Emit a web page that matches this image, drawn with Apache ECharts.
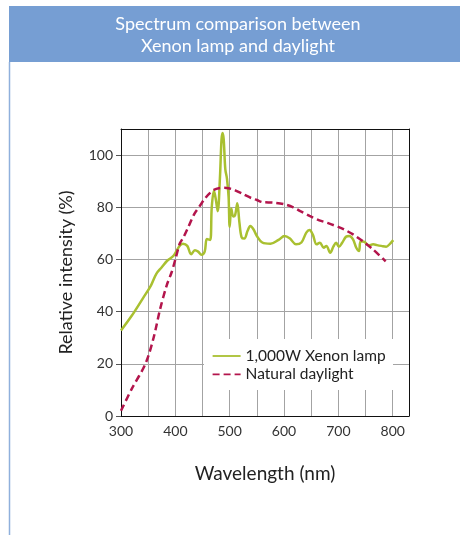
<!DOCTYPE html>
<html>
<head>
<meta charset="utf-8">
<script src="https://cdn.jsdelivr.net/npm/echarts@6/dist/echarts.min.js"></script>
<style>
html,body{margin:0;padding:0;background:#fff;}
#chart{width:460px;height:537px;}
</style>
</head>
<body>
<div id="chart"></div>
<script>
// ---- data ----
var titleLines = ['Spectrum comparison between', 'Xenon lamp and daylight'];
var xAxisName = 'Wavelength (nm)';
var yAxisName = 'Relative intensity (%)';
var xTickLabels = [300, 400, 500, 600, 700, 800];
var yTickLabels = [0, 20, 40, 60, 80, 100];
var seriesNames = ['1,000W Xenon lamp', 'Natural daylight'];

var xenonWavelength = [300, 320, 340, 355, 365, 375, 385, 397, 407, 414, 422, 429, 436, 442, 448, 454, 458, 464,
  467, 471, 474.5, 478, 482, 485, 487, 489, 492, 495, 498, 500, 503, 506.5, 510, 514, 518, 522, 527, 533, 538, 544,
  550, 560, 575, 590, 601, 611, 622, 632, 641, 647, 653, 660, 666, 673, 678, 685, 691, 696, 701, 707, 714, 720, 727,
  733, 738, 741, 748, 756, 764, 771, 779, 788, 795, 801];
var xenonIntensity = [32.8, 38.5, 45, 50, 54.5, 57, 59.5, 61.5, 65, 66, 65.2, 62, 63.5, 63, 61.8, 63, 67.8, 67.5,
  80, 86.3, 83, 78.5, 91, 106, 108.5, 106, 94.5, 91, 84, 72.5, 79.5, 76.5, 77, 81.5, 74, 68.5, 68, 71, 72.8, 71.5,
  69, 66.5, 66, 67.5, 69, 68, 65.8, 66.5, 70.3, 71.3, 69.5, 65.8, 66.4, 64.5, 65.2, 62.6, 65, 66.4, 64.9, 66.4, 68.7, 69, 67.7,
  64.5, 63.2, 67, 66.7, 65.4, 65.8, 65.5, 65.2, 64.9, 66, 67.4];

var daylightWavelength = [300, 320, 345, 360, 372, 384, 393, 400, 408, 415, 424, 435, 445, 455, 464, 472, 480, 490,
  500, 510, 525, 540, 550, 560, 580, 600, 617, 630, 647, 665, 680, 703, 715, 727, 745, 764, 787];
var daylightIntensity = [2, 10.5, 20, 30, 41, 50, 55, 60, 66, 68.5, 72.5, 77.5, 80.5, 83.5, 85.5, 86.8, 87.3, 87.5,
  87.2, 86.5, 85, 83.5, 82.8, 82, 81.8, 81.2, 80, 78.5, 76.7, 75, 74, 72.2, 71, 69.6, 67, 63.8, 59.3];

function pairs(xs, ys) { return xs.map(function (x, i) { return [x, ys[i]]; }); }

var FONT = 'Lato';
var chart = echarts.init(document.getElementById('chart'), null, {renderer: 'canvas'});
var option = {
  backgroundColor: '#ffffff',
  animation: false,
  textStyle: {fontFamily: FONT},
  title: {
    text: titleLines.join('\n'),
    left: 238,
    top: 12.6,
    padding: 0,
    textAlign: 'center',
    textStyle: {color: '#ffffff', fontSize: 18, fontWeight: 'normal', lineHeight: 22.7, fontFamily: FONT}
  },
  graphic: [
    {type: 'rect', z: -10, shape: {x: 9, y: 6, width: 451, height: 56}, style: {fill: '#769ed3'}},
    {type: 'line', z: -10, shape: {x1: 9.5, y1: 62, x2: 9.5, y2: 535}, style: {stroke: '#8fb0dc', lineWidth: 1.5}}
  ],
  grid: {left: 121, right: 51, top: 129, bottom: 121, containLabel: false},
  legend: {
    orient: 'vertical',
    left: 206.7,
    top: 342.5,
    itemWidth: 28,
    itemHeight: 14,
    itemGap: 1.3,
    data: seriesNames,
    itemStyle: {opacity: 0},
    lineStyle: {width: 1.8},
    textStyle: {fontSize: 15.5, color: '#222', lineHeight: 17, fontFamily: FONT},
    z: 10
  },
  xAxis: [{
    type: 'value', min: 300, max: 830, interval: 50,
    name: xAxisName, nameLocation: 'middle', nameGap: 48,
    nameTextStyle: {fontSize: 19, color: '#222', fontFamily: FONT},
    axisLine: {show: true, lineStyle: {color: '#111', width: 1}},
    axisTick: {show: false},
    axisLabel: {customValues: xTickLabels, fontSize: 14, color: '#333', margin: 8, fontFamily: FONT},
    splitLine: {show: true, lineStyle: {color: '#a3a3a3', width: 1}}
  }, {
    type: 'value', min: 300, max: 830, position: 'top',
    axisLine: {show: true, onZero: false, lineStyle: {color: '#111', width: 1}},
    axisTick: {show: false}, axisLabel: {show: false}, splitLine: {show: false}
  }],
  yAxis: [{
    type: 'value', min: 0, max: 110, interval: 10,
    name: yAxisName, nameLocation: 'middle', nameGap: 46,
    nameTextStyle: {fontSize: 18, color: '#222', fontFamily: FONT},
    axisLine: {show: true, lineStyle: {color: '#111', width: 1}},
    axisTick: {show: true, customValues: yTickLabels, length: 5, lineStyle: {color: '#555'}},
    axisLabel: {customValues: yTickLabels, fontSize: 14, color: '#333', margin: 8, fontFamily: FONT},
    splitLine: {show: true, lineStyle: {color: '#a3a3a3', width: 1}}
  }, {
    type: 'value', min: 0, max: 110, position: 'right',
    axisLine: {show: true, onZero: false, lineStyle: {color: '#111', width: 1}},
    axisTick: {show: false}, axisLabel: {show: false}, splitLine: {show: false}
  }],
  series: [{
    name: seriesNames[0], type: 'line', xAxisIndex: 0, yAxisIndex: 0,
    data: pairs(xenonWavelength, xenonIntensity),
    smooth: 0.35, symbol: 'none', z: 3,
    lineStyle: {color: '#a9c030', width: 2.5},
    itemStyle: {color: '#a9c030'}
  }, {
    name: seriesNames[1], type: 'line', xAxisIndex: 0, yAxisIndex: 0,
    data: pairs(daylightWavelength, daylightIntensity),
    smooth: 0.3, symbol: 'none', z: 4,
    lineStyle: {color: '#b3154c', width: 2.5, type: [7, 4]},
    itemStyle: {color: '#b3154c'}
  }]
};
chart.setOption(option);

// white legend panel covering the grid cells 450–800 nm × 10–30 %
var p1 = chart.convertToPixel({xAxisIndex: 0, yAxisIndex: 0}, [450, 30]);
var p2 = chart.convertToPixel({xAxisIndex: 0, yAxisIndex: 0}, [800, 10]);
var gfx = option.graphic.slice();
gfx.push({type: 'rect', z: 5, shape: {x: Math.round(p1[0]) + 1, y: Math.round(p1[1]) + 1,
  width: Math.round(p2[0]) - Math.round(p1[0]) - 1, height: Math.round(p2[1]) - Math.round(p1[1]) - 1},
  style: {fill: '#ffffff'}});
chart.setOption({graphic: gfx}, {replaceMerge: ['graphic']});
</script>
</body>
</html>
